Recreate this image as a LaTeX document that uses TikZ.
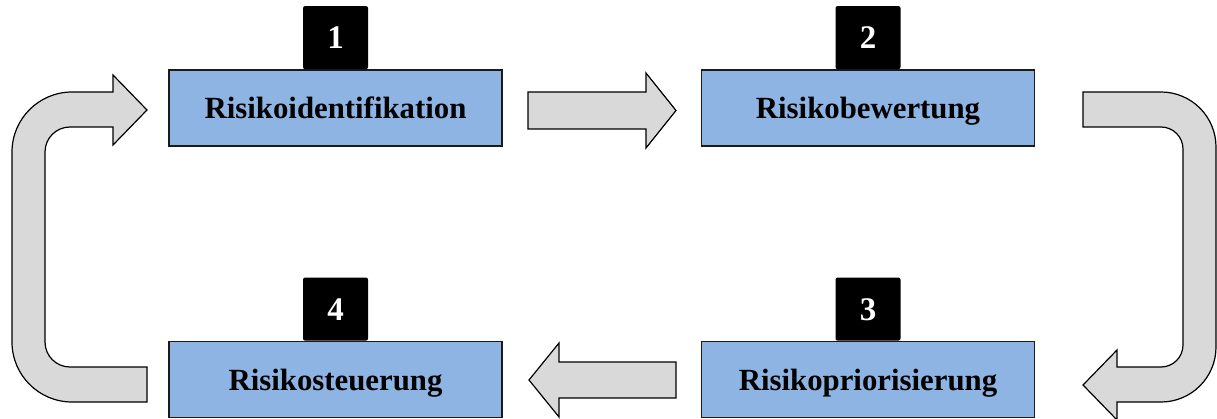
\documentclass[tikz,border=0pt]{standalone}
\usepackage{fontspec}
\setmainfont{Liberation Serif}
\definecolor{boxblue}{HTML}{8EB4E3}
\definecolor{arrowgray}{HTML}{D9D9D9}
\definecolor{edgedark}{HTML}{1A1A1A}
\tikzset{
  stepbox/.style={draw=edgedark, line width=1.4pt, fill=boxblue, minimum width=333pt, minimum height=76pt,
    inner sep=0pt, font=\fontsize{30.8}{36}\selectfont\bfseries, text height=21pt, text depth=0pt},
  numbox/.style={fill=black, rounded corners=2pt, minimum width=65pt, minimum height=63pt, inner sep=0pt,
    text=white, font=\fontsize{33}{38}\selectfont\bfseries, text height=22pt, text depth=0pt, anchor=south},
  blockarrow/.style={draw=black, line width=1.2pt, fill=arrowgray, line join=miter}
}
\begin{document}
\begin{tikzpicture}[x=1pt,y=1pt]
\useasboundingbox (0,0) rectangle (1217,418);
% boxes
\node[stepbox] (b1) at (335.5,310) {Risikoidentifikation};
\node[stepbox] (b2) at (868,310) {Risikobewertung};
\node[stepbox] (b3) at (868,38.5) {Risikopriorisierung};
\node[stepbox] (b4) at (335.5,38.5) {Risikosteuerung};
% number squares
\node[numbox] (n1) at (b1.north) {1};
\node[numbox] (n2) at (b2.north) {2};
\node[numbox] (n3) at (b3.north) {3};
\node[numbox] (n4) at (b4.north) {4};
% top arrow 1 -> 2
\draw[blockarrow] (528,326) -- (646,326) -- (646,345) -- (676,307.5) -- (646,270) -- (646,289) -- (528,289) -- cycle;
% right U arrow 2 -> 3
\draw[blockarrow] (1083,326) -- (1161,326) arc[start angle=90,end angle=0,radius=55]
  -- (1216,71) arc[start angle=0,end angle=-90,radius=55]
  -- (1117,16) -- (1117,-2) -- (1083,33) -- (1117,68) -- (1117,51) -- (1161,51)
  arc[start angle=-90,end angle=0,radius=22] -- (1183,269)
  arc[start angle=0,end angle=90,radius=22] -- (1083,291) -- cycle;
% bottom arrow 3 -> 4
\draw[blockarrow] (676,56) -- (559,56) -- (559,75) -- (529,38) -- (559,1) -- (559,20) -- (676,20) -- cycle;
% left U arrow 4 -> 1
\draw[blockarrow] (147,16) -- (72,16) arc[start angle=270,end angle=180,radius=60]
  -- (12,266) arc[start angle=180,end angle=90,radius=60]
  -- (113,326) -- (113,343) -- (147,308) -- (113,273) -- (113,291) -- (70,291)
  arc[start angle=90,end angle=180,radius=25] -- (45,76)
  arc[start angle=180,end angle=270,radius=25] -- (147,51) -- cycle;
\end{tikzpicture}
\end{document}
